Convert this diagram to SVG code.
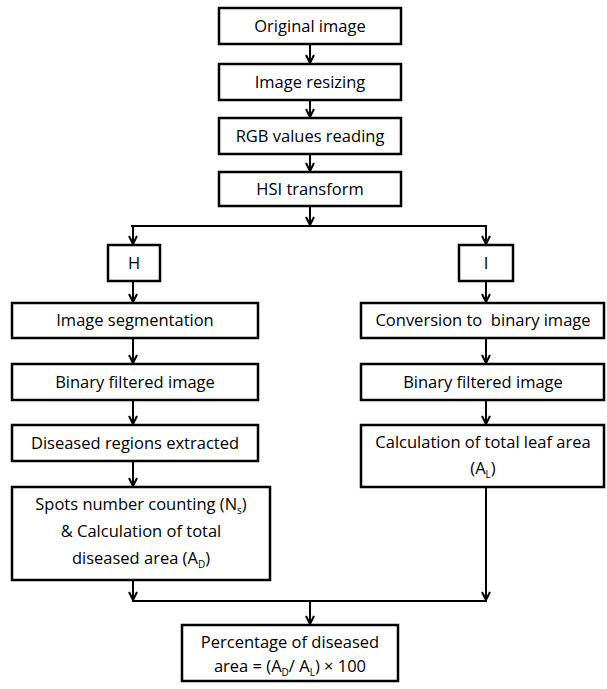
<svg xmlns="http://www.w3.org/2000/svg" width="607" height="689" viewBox="0 0 607 689">
<defs>
<style>
.box{fill:#fff;stroke:#000;stroke-width:2.5}
.t{font-family:"Open Sans","Liberation Sans",sans-serif;font-size:16.5px;font-weight:500;fill:#000;text-anchor:middle}
.s{font-size:10px}
.c{fill:none;stroke:#000;stroke-width:2}
</style>
<marker id="ah" viewBox="0 0 10 10" refX="9" refY="5" markerWidth="10" markerHeight="10" markerUnits="userSpaceOnUse" orient="auto">
<path d="M1,1 L9,5 L1,9" fill="none" stroke="#000" stroke-width="2"/>
</marker>
</defs>
<g id="connectors">
<line class="c" x1="310" y1="44" x2="310" y2="63" marker-end="url(#ah)"/>
<line class="c" x1="310" y1="100" x2="310" y2="117" marker-end="url(#ah)"/>
<line class="c" x1="310" y1="154" x2="310" y2="171" marker-end="url(#ah)"/>
<line class="c" x1="310" y1="206" x2="310" y2="225" marker-end="url(#ah)"/>
<line class="c" x1="131" y1="226" x2="487" y2="226"/>
<line class="c" x1="133" y1="226" x2="133" y2="244" marker-end="url(#ah)"/>
<line class="c" x1="486" y1="226" x2="486" y2="244" marker-end="url(#ah)"/>
<line class="c" x1="133" y1="281" x2="133" y2="302" marker-end="url(#ah)"/>
<line class="c" x1="486" y1="281" x2="486" y2="302" marker-end="url(#ah)"/>
<line class="c" x1="133" y1="338" x2="133" y2="363" marker-end="url(#ah)"/>
<line class="c" x1="486" y1="338" x2="486" y2="363" marker-end="url(#ah)"/>
<line class="c" x1="133" y1="400" x2="133" y2="424" marker-end="url(#ah)"/>
<line class="c" x1="486" y1="400" x2="486" y2="424" marker-end="url(#ah)"/>
<line class="c" x1="133" y1="461" x2="133" y2="486" marker-end="url(#ah)"/>
<line class="c" x1="133" y1="580" x2="133" y2="600" marker-end="url(#ah)"/>
<line class="c" x1="486" y1="487" x2="486" y2="600" marker-end="url(#ah)"/>
<line class="c" x1="132" y1="601" x2="487" y2="601"/>
<line class="c" x1="310" y1="601" x2="310" y2="624" marker-end="url(#ah)"/>
</g>
<g id="n1"><rect class="box" x="219" y="8" width="182" height="36"/><text class="t" x="310" y="32">Original image</text></g>
<g id="n2"><rect class="box" x="219" y="64" width="182" height="36"/><text class="t" x="310" y="88">Image resizing</text></g>
<g id="n3"><rect class="box" x="219" y="118" width="182" height="36"/><text class="t" x="310" y="142">RGB values reading</text></g>
<g id="n4"><rect class="box" x="219" y="172" width="182" height="34"/><text class="t" x="310" y="195">HSI transform</text></g>
<g id="nH"><rect class="box" x="108" y="245" width="52" height="36"/><text class="t" x="134" y="269">H</text></g>
<g id="nI"><rect class="box" x="459" y="245" width="54" height="36"/><text class="t" x="486" y="269">I</text></g>
<g id="nL1"><rect class="box" x="12" y="303" width="246" height="35"/><text class="t" x="135" y="326">Image segmentation</text></g>
<g id="nL2"><rect class="box" x="12" y="364" width="246" height="36"/><text class="t" x="135" y="388">Binary filtered image</text></g>
<g id="nL3"><rect class="box" x="12" y="425" width="246" height="36"/><text class="t" x="135" y="449">Diseased regions extracted</text></g>
<g id="nL4"><rect class="box" x="12" y="487" width="258" height="93"/>
<text class="t" x="141" y="510">Spots number counting (N<tspan class="s" dy="4">s</tspan><tspan dy="-4">)</tspan></text>
<text class="t" x="141" y="537">&amp; Calculation of total</text>
<text class="t" x="141" y="564">diseased area (A<tspan class="s" dy="4">D</tspan><tspan dy="-4">)</tspan></text></g>
<g id="nR1"><rect class="box" x="361" y="303" width="243" height="35"/><text class="t" x="483" y="326">Conversion to&#160; binary image</text></g>
<g id="nR2"><rect class="box" x="361" y="364" width="243" height="36"/><text class="t" x="483" y="388">Binary filtered image</text></g>
<g id="nR3"><rect class="box" x="361" y="425" width="243" height="62"/>
<text class="t" x="483" y="448">Calculation of total leaf area</text>
<text class="t" x="483" y="474">(A<tspan class="s" dy="4">L</tspan><tspan dy="-4">)</tspan></text></g>
<g id="nP"><rect class="box" x="182" y="625" width="216" height="56"/>
<text class="t" x="290" y="648">Percentage of diseased</text>
<text class="t" x="290" y="672">area = (A<tspan class="s" dy="4">D</tspan><tspan dy="-4">/ A</tspan><tspan class="s" dy="4">L</tspan><tspan dy="-4">) × 100</tspan></text></g>
</svg>
